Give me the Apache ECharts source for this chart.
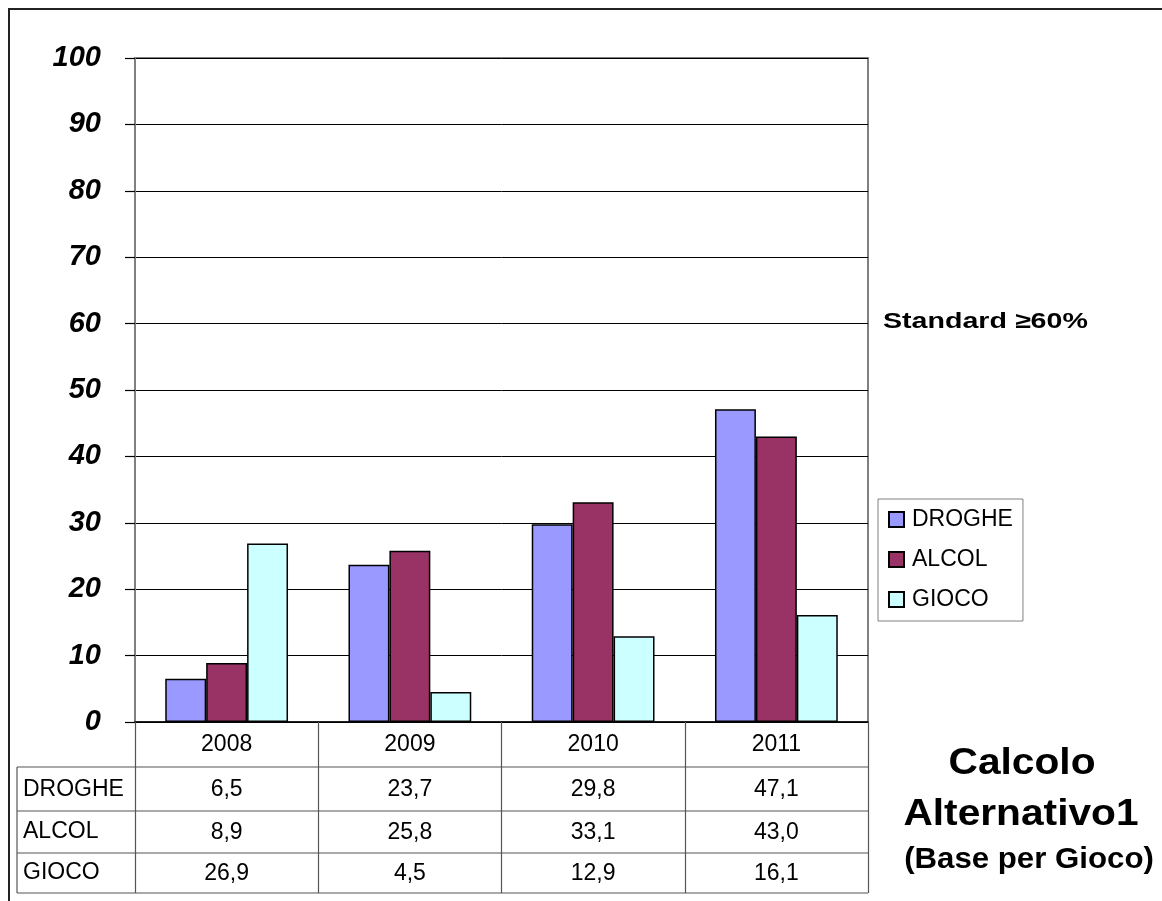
<!DOCTYPE html>
<html>
<head>
<meta charset="utf-8">
<script src="https://cdn.jsdelivr.net/npm/echarts@6/dist/echarts.min.js"></script>
<style>
  html, body { margin: 0; padding: 0; background: #fff; }
  #chart { width: 1162px; height: 901px; }
</style>
</head>
<body>
<div id="chart"></div>
<script>
var years = ['2008', '2009', '2010', '2011'];
var seriesNames = ['DROGHE', 'ALCOL', 'GIOCO'];
var droghe = [6.5, 23.7, 29.8, 47.1];
var alcol = [8.9, 25.8, 33.1, 43.0];
var gioco = [26.9, 4.5, 12.9, 16.1];
var colors = ['#9999FF', '#993366', '#CCFFFF'];

var font = "'Liberation Sans', Arial, sans-serif";

// layout
var gridL = 135, gridT = 58, gridR = 868, gridB = 722;
var tableL = 17;
var rowLines = [767, 811, 853, 893];
var rowCenters = [790, 832, 873];

function fmt(v) {
    return v.toFixed(1).replace('.', ',');
}

var myChart = echarts.init(document.getElementById('chart'));

var graphics = [];
// cornice esterna
graphics.push({
    type: 'rect',
    shape: {x: 9, y: 9, width: 1170, height: 910},
    style: {fill: 'none', stroke: '#222', lineWidth: 2},
    silent: true
});
// righe tabella
for (var i = 0; i < rowLines.length; i++) {
    graphics.push({
        type: 'line',
        shape: {x1: tableL, y1: rowLines[i], x2: gridR, y2: rowLines[i]},
        style: {stroke: '#555', lineWidth: 1.2}
    });
}
graphics.push({
    type: 'line',
    shape: {x1: tableL, y1: rowLines[0], x2: tableL, y2: rowLines[3]},
    style: {stroke: '#555', lineWidth: 1.2}
});
// intestazioni righe
for (var j = 0; j < seriesNames.length; j++) {
    graphics.push({
        type: 'text',
        x: 23,
        y: rowCenters[j],
        style: {
            text: seriesNames[j],
            font: '23px ' + font,
            fill: '#000',
            textAlign: 'left',
            textVerticalAlign: 'middle'
        }
    });
}
// testi a destra
graphics.push({
    type: 'text', x: 883, y: 322, scaleX: 1.3,
    style: {text: 'Standard \u226560%', font: 'bold 22px ' + font, fill: '#000',
            textAlign: 'left', textVerticalAlign: 'middle'}
});
graphics.push({
    type: 'text', x: 1022, y: 764, scaleX: 1.1,
    style: {text: 'Calcolo', font: 'bold 37px ' + font, fill: '#000',
            textAlign: 'center', textVerticalAlign: 'middle'}
});
graphics.push({
    type: 'text', x: 1021, y: 815, scaleX: 1.1,
    style: {text: 'Alternativo1', font: 'bold 37px ' + font, fill: '#000',
            textAlign: 'center', textVerticalAlign: 'middle'}
});
graphics.push({
    type: 'text', x: 1029, y: 860, scaleX: 1.04,
    style: {text: '(Base per Gioco)', font: 'bold 30px ' + font, fill: '#000',
            textAlign: 'center', textVerticalAlign: 'middle'}
});

var values = [droghe, alcol, gioco];

var option = {
    backgroundColor: '#fff',
    animation: false,
    textStyle: {fontFamily: font},
    grid: {
        left: gridL,
        top: gridT,
        width: gridR - gridL,
        height: gridB - gridT,
        show: true,
        borderColor: '#808080',
        borderWidth: 2,
        backgroundColor: 'transparent'
    },
    legend: {
        orient: 'vertical',
        left: 878,
        top: 499,
        padding: [9, 10, 10, 10],
        itemWidth: 15,
        itemHeight: 15,
        itemGap: 17,
        icon: 'rect',
        borderColor: '#808080',
        borderWidth: 1,
        textStyle: {fontSize: 23, color: '#000', fontFamily: font, padding: [0, 0, 0, 3]},
        data: seriesNames
    },
    xAxis: {
        type: 'category',
        data: years,
        boundaryGap: true,
        axisLine: {lineStyle: {color: '#000', width: 1.5}},
        axisTick: {
            show: true,
            alignWithLabel: false,
            length: rowLines[3] - gridB,
            lineStyle: {color: '#555', width: 1.2}
        },
        axisLabel: {
            margin: 0,
            interval: 0,
            formatter: function (val, idx) {
                return '{y|' + val + '}\n{a|' + fmt(droghe[idx]) + '}\n{b|' +
                    fmt(alcol[idx]) + '}\n{c|' + fmt(gioco[idx]) + '}';
            },
            rich: {
                y: {fontSize: 23, lineHeight: 45, color: '#000', fontFamily: font},
                a: {fontSize: 23, lineHeight: 45, color: '#000', fontFamily: font},
                b: {fontSize: 23, lineHeight: 42, color: '#000', fontFamily: font},
                c: {fontSize: 23, lineHeight: 40, color: '#000', fontFamily: font}
            }
        }
    },
    yAxis: {
        type: 'value',
        min: 0,
        max: 100,
        interval: 10,
        axisLine: {show: true, lineStyle: {color: '#808080', width: 2}},
        axisTick: {show: true, length: 10, lineStyle: {color: '#000', width: 1.2}},
        axisLabel: {
            margin: 34,
            fontSize: 29,
            fontWeight: 'bold',
            fontStyle: 'italic',
            color: '#000',
            fontFamily: font
        },
        splitLine: {lineStyle: {color: '#000', width: 1}}
    },
    series: seriesNames.map(function (name, k) {
        return {
            name: name,
            type: 'bar',
            data: values[k],
            barGap: '0%',
            barCategoryGap: '33%',
            itemStyle: {color: colors[k], borderColor: '#000', borderWidth: 1.5}
        };
    }),
    graphic: graphics
};

myChart.setOption(option);
</script>
</body>
</html>
